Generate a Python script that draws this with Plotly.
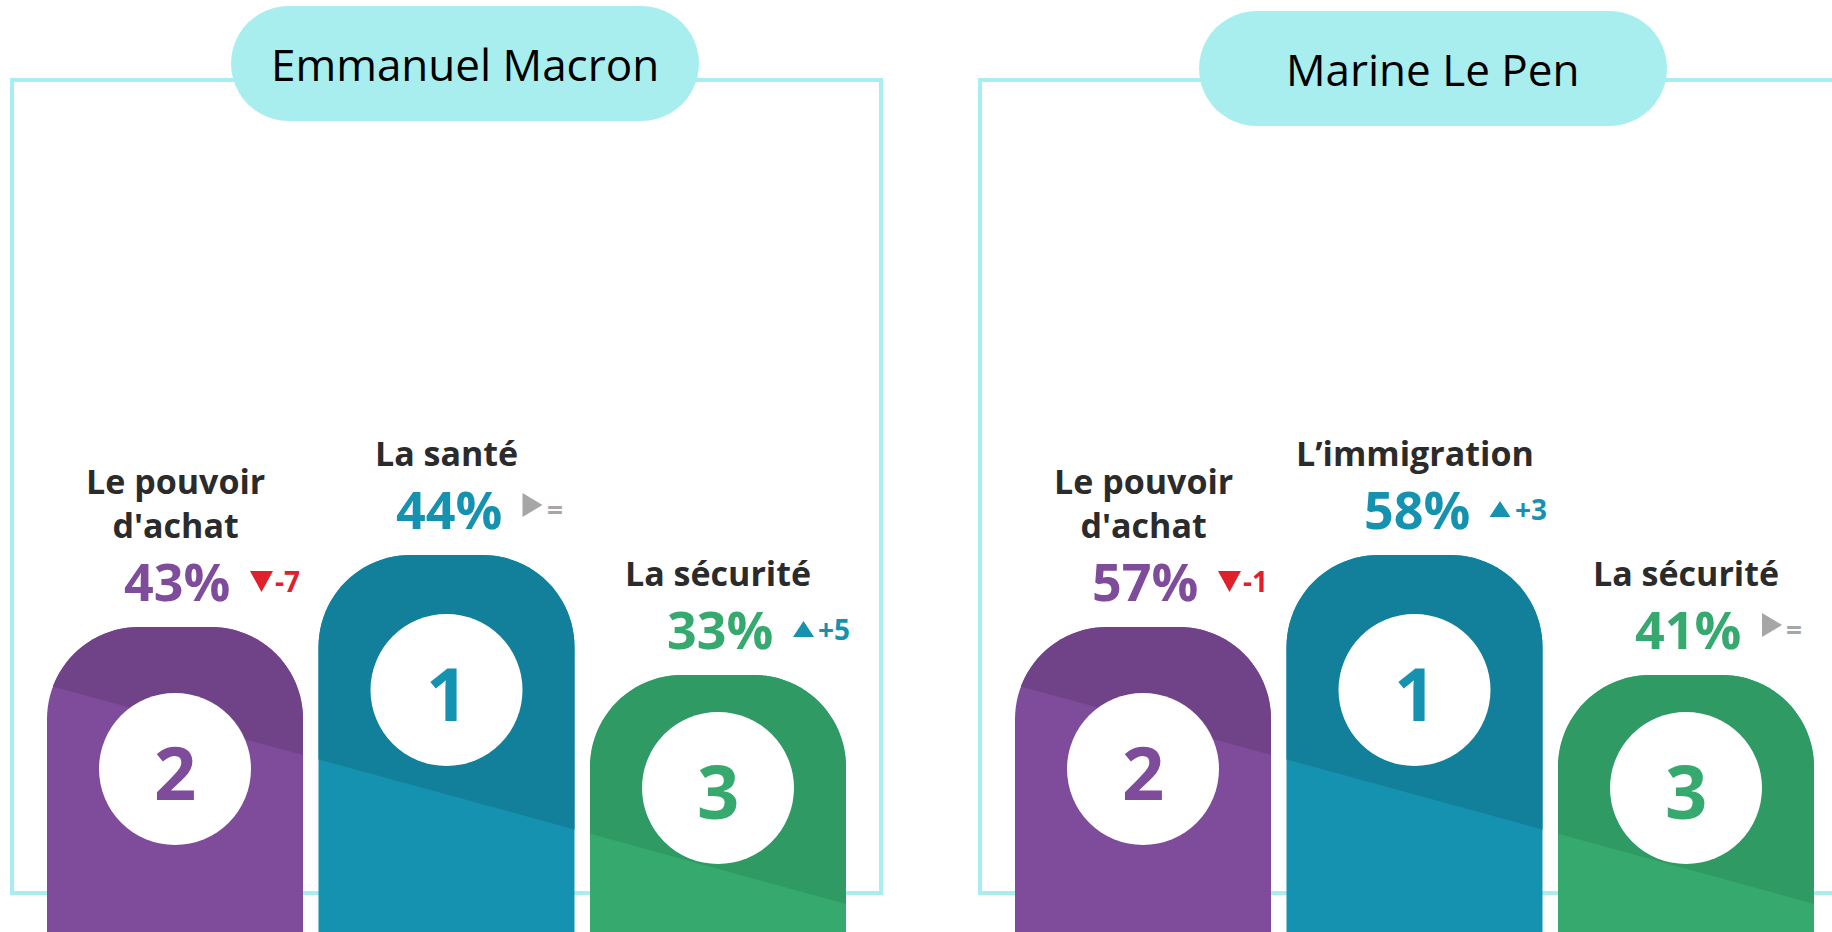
import math
import plotly.graph_objects as go

# données : thèmes prioritaires par candidat
panels = [
    {'candidat': 'Emmanuel Macron', 'dy': 0, 'themes': [
        {'theme': "Le pouvoir<br>d'achat", 'score': 43, 'evol': -7, 'rang': 2},
        {'theme': 'La santé', 'score': 44, 'evol': 0, 'rang': 1},
        {'theme': 'La sécurité', 'score': 33, 'evol': 5, 'rang': 3},
    ]},
    {'candidat': 'Marine Le Pen', 'dy': 5, 'themes': [
        {'theme': "Le pouvoir<br>d'achat", 'score': 57, 'evol': -1, 'rang': 2},
        {'theme': 'L’immigration', 'score': 58, 'evol': 3, 'rang': 1},
        {'theme': 'La sécurité', 'score': 41, 'evol': 0, 'rang': 3},
    ]},
]

colors = [('#7f4c9c', '#704389'), ('#1592b0', '#13809b'), ('#36aa6e', '#2f9a64')]
podium = {1: (555, 690), 2: (627, 769), 3: (675, 788)}  # haut de colonne, centre du rond
W, H = 1832, 932
PANEL_DX = 968
BAR_W, RADIUS, GAP = 256, 92, 15.5
CYAN = '#a8eeee'
FONT = 'Open Sans'


def arc(cx, cy, r, a0, a1, n=24):
    return [(cx + r * math.cos(a0 + (a1 - a0) * k / n), cy - r * math.sin(a0 + (a1 - a0) * k / n))
            for k in range(n + 1)]


def bar_outline(x0, top, bottom=H + 20, w=BAR_W, r=RADIUS):
    pts = [(x0, bottom)]
    pts += arc(x0 + r, top + r, r, math.pi, math.pi / 2)
    pts += arc(x0 + w - r, top + r, r, math.pi / 2, 0)
    pts.append((x0 + w, bottom))
    return pts


def clip_above(pts, f):
    out = []
    for i in range(len(pts)):
        p, q = pts[i], pts[(i + 1) % len(pts)]
        dp, dq = p[1] - f(p[0]), q[1] - f(q[0])
        if dp <= 0:
            out.append(p)
        if dp * dq < 0:
            t = dp / (dp - dq)
            out.append((p[0] + t * (q[0] - p[0]), p[1] + t * (q[1] - p[1])))
    return out


def to_path(pts):
    return 'M ' + ' L '.join(f'{x:.1f},{y:.1f}' for x, y in pts) + ' Z'


def arrow(evol, x, y):
    # triangle d'évolution : baisse / hausse / stable
    if evol < 0:
        return [(x, y - 9), (x + 23, y - 9), (x + 11.5, y + 12)], '#e0202a', str(evol)
    if evol > 0:
        return [(x, y + 9), (x + 21, y + 9), (x + 10.5, y - 7)], '#1592b0', f'+{evol}'
    return [(x + 1, y - 15), (x + 21, y - 3), (x + 1, y + 9)], '#a6a6a6', '='


shapes, annotations = [], []

for p, panel in enumerate(panels):
    dx = p * PANEL_DX
    # cadre
    shapes.append(dict(type='rect', x0=12 + dx, x1=881 + dx, y0=80, y1=893,
                       line=dict(color=CYAN, width=4), fillcolor='rgba(0,0,0,0)'))
    # pastille du nom
    py0, py1 = 6 + panel['dy'], 121 + panel['dy']
    pr = (py1 - py0) / 2
    pill = arc(231 + dx + pr, py0 + pr, pr, math.pi / 2, 3 * math.pi / 2) + \
        arc(699 + dx - pr, py0 + pr, pr, -math.pi / 2, math.pi / 2)
    shapes.append(dict(type='path', path=to_path(pill), fillcolor=CYAN, line=dict(width=0)))
    annotations.append(dict(x=465 + dx, y=(py0 + py1) / 2, text=panel['candidat'], showarrow=False,
                            font=dict(family=FONT, size=44, color='#000000'),
                            xanchor='center', yanchor='middle'))

    diag = lambda x, dx=dx: 685 + 0.274 * (x - 47 - dx)
    for i, t in enumerate(panel['themes']):
        light, dark = colors[i]
        x0 = 47 + dx + i * (BAR_W + GAP)
        xc = x0 + BAR_W / 2
        top, cy = podium[t['rang']]
        outline = bar_outline(x0, top)
        shapes.append(dict(type='path', path=to_path(outline), fillcolor=light, line=dict(width=0)))
        shapes.append(dict(type='path', path=to_path(clip_above(outline, diag)),
                           fillcolor=dark, line=dict(width=0)))
        shapes.append(dict(type='circle', x0=xc - 76, x1=xc + 76, y0=cy - 76, y1=cy + 76,
                           fillcolor='white', line=dict(width=0)))
        annotations.append(dict(x=xc, y=cy + 2, text=f"<b>{t['rang']}</b>", showarrow=False,
                                font=dict(family=FONT, size=74, color=light),
                                xanchor='center', yanchor='middle'))
        # score et évolution
        ys = top - 47
        annotations.append(dict(x=xc + 2, y=ys, text=f"<b>{t['score']}%</b>", showarrow=False,
                                font=dict(family=FONT, size=52, color=light),
                                xanchor='center', yanchor='middle'))
        annotations.append(dict(x=xc, y=ys - 30, text=f"<b>{t['theme']}</b>", showarrow=False,
                                font=dict(family=FONT, size=34, color='#2b2b2b'),
                                xanchor='center', yanchor='bottom'))
        tri, col, txt = arrow(t['evol'], xc + 75, ys)
        shapes.append(dict(type='path', path=to_path(tri), fillcolor=col, line=dict(width=0)))
        annotations.append(dict(x=xc + 98, y=ys + 1, text=f'<b>{txt}</b>', showarrow=False,
                                font=dict(family=FONT, size=28, color=col),
                                xanchor='left', yanchor='middle'))

fig = go.Figure()
fig.update_layout(width=W, height=H, margin=dict(l=0, r=0, t=0, b=0),
                  paper_bgcolor='white', plot_bgcolor='white', showlegend=False,
                  shapes=shapes, annotations=annotations)
fig.update_xaxes(range=[0, W], visible=False)
fig.update_yaxes(range=[H, 0], visible=False)
fig.write_html("out.html", config={'displayModeBar': False},
               post_script="document.body.style.margin='0';")
